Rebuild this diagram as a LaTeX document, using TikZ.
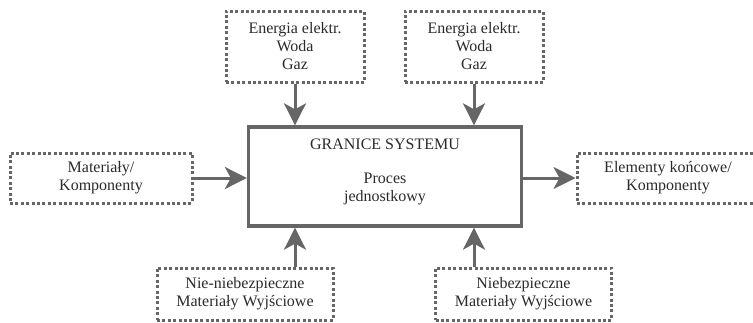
\documentclass[tikz,border=0pt]{standalone}
\usepackage{fontspec}
\setmainfont{Liberation Serif}
\usepackage{tikz}
\usetikzlibrary{arrows.meta,calc,positioning}
\definecolor{linegray}{HTML}{666666}
\definecolor{textgray}{HTML}{2A2A2A}
\tikzset{
  dotbox/.style={draw=linegray, line width=3pt, dash pattern=on 3pt off 2.4pt,
    align=center, inner sep=0pt, text=textgray, font=\fontsize{16}{18}\selectfont},
  procbox/.style={draw=linegray, line width=3.3pt, minimum width=273pt, minimum height=99pt},
  flow/.style={draw=linegray, line width=3pt,
    -{Stealth[length=22pt,width=22pt,inset=6pt]}}
}
\begin{document}
\begin{tikzpicture}[x=1pt,y=-1pt]
\useasboundingbox (0,0) rectangle (753,322);
% system boundary
\node[procbox] (proc) at (385,176.5) {};
\node[below=10pt of proc.north, align=center, text=textgray,
  font=\fontsize{16}{17.5}\selectfont] (proclabel) {GRANICE SYSTEMU\\[17pt]Proces\\jednostkowy};
% inputs from above
\node[dotbox, minimum width=138pt, minimum height=71pt] (energy1) at (295,46.5) {Energia elektr.\\Woda\\Gaz};
\node[dotbox, minimum width=138pt, minimum height=71pt] (energy2) at (474,46.5) {Energia elektr.\\Woda\\Gaz};
% materials in and out
\node[dotbox, minimum width=182pt, minimum height=50pt] (matin) at (101,178) {Materiały/\\Komponenty};
\node[dotbox, minimum width=182pt, minimum height=50pt] (matout) at (668,178) {Elementy końcowe/\\Komponenty};
% waste
\node[dotbox, minimum width=176pt, minimum height=52pt] (waste1) at (245,294) {Nie-niebezpieczne\\Materiały Wyjściowe};
\node[dotbox, minimum width=176pt, minimum height=52pt] (waste2) at (523.5,294) {Niebezpieczne\\Materiały Wyjściowe};
% arrows
\draw[flow] (energy1.south) -- (energy1.south |- proc.north);
\draw[flow] (energy2.south) -- (energy2.south |- proc.north);
\draw[flow] (matin.east) -- (matin.east -| proc.west);
\draw[flow] (matin.east -| proc.east) -- (matout.west);
\draw[flow] (waste1.north -| energy1.south) -- (energy1.south |- proc.south);
\draw[flow] (waste2.north -| energy2.south) -- (energy2.south |- proc.south);
\end{tikzpicture}
\end{document}
